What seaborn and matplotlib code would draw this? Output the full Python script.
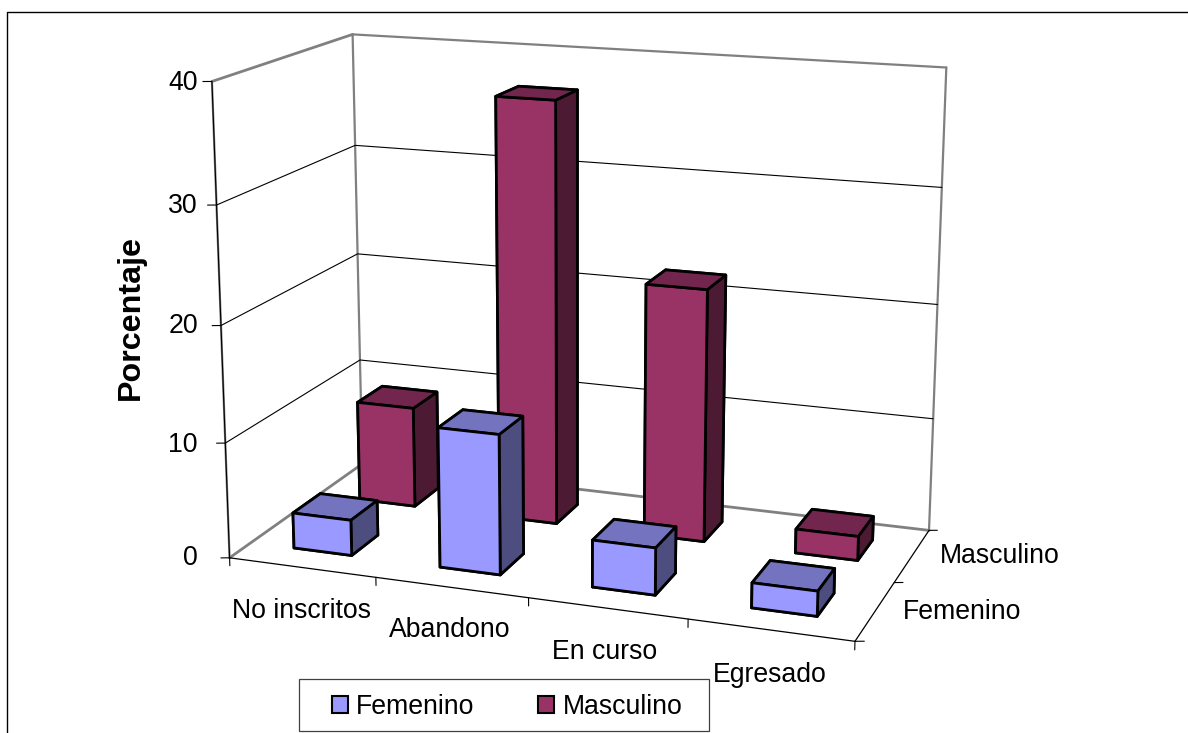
#!/usr/bin/env python3
# coding=utf-8
from matplotlib import pyplot as plt
from matplotlib.lines import Line2D
from matplotlib.patches import Patch, Rectangle
import numpy as np
import pandas as pd
import seaborn as sns

W, H = 1188, 733

categories = ["No inscritos", "Abandono", "En curso", "Egresado"]
series = ["Femenino", "Masculino"]
femenino = [3.1, 12.0, 4.0, 2.1]
masculino = [9.0, 37.0, 22.0, 2.1]
z_ticks = [0, 10, 20, 30, 40]

df = pd.DataFrame({
    "estado": categories * 2,
    "sexo": ["Femenino"] * 4 + ["Masculino"] * 4,
    "porcentaje": femenino + masculino,
})

# box corners (x, depth, z) and where they sit in the reference, in pixels
box_corners = [(0, 0, 0), (4, 0, 0), (4, 2, 0), (0, 2, 0),
               (0, 0, 40), (0, 2, 40), (4, 2, 40)]
box_pixels = [(230.7, 556.7), (855, 642.3), (929.3, 529.3), (361, 465),
              (210.7, 81.7), (354, 34), (946, 67.7)]


def fit_camera(world, pixels):
    rows = []
    for (x, y, z), (u, v) in zip(world, pixels):
        p = [x, y, z, 1]
        v = H - v
        rows.append(p + [0, 0, 0, 0] + [-u * c for c in p])
        rows.append([0, 0, 0, 0] + p + [-v * c for c in p])
    cam = np.linalg.svd(np.array(rows, float))[2][-1].reshape(3, 4)
    w_mid = cam[2] @ [2, 1, 20, 1]
    return cam / w_mid


sns.set_theme(style="white", font="Liberation Sans")
palette = sns.color_palette(["#9999FF", "#993366"])

fig = plt.figure(figsize=(W / 100, H / 100), dpi=100, facecolor="white")
# square axes bigger than the figure so nothing gets clipped
ax = fig.add_axes([0, (H - W) / 2 / H, 1, W / H], projection="3d")
ax.set_axis_off()
ax.patch.set_visible(False)
ax.computed_zorder = False
ax.set_proj_type("ortho")  # stops Line3D masking points, the matrix below does the perspective
ax.set_xlim(0, 4)
ax.set_ylim(0, 2)
ax.set_zlim(0, 40)

camera = fit_camera(box_corners, box_pixels)


def camera_proj():
    p = ax.transData.inverted().get_matrix() @ camera
    return np.vstack([p[0], p[1], p[2] - [0, 0, 0, 0.5], p[2]])


ax.get_proj = camera_proj

GRAY = "#808080"

# walls and floor edges
ax.plot([0, 0], [0, 2], [0, 0], color=GRAY, lw=2.0, zorder=1)
ax.plot([0, 4], [2, 2], [0, 0], color=GRAY, lw=2.0, zorder=1)
ax.plot([0, 0], [0, 2], [40, 40], color=GRAY, lw=2.0, zorder=1)
ax.plot([0, 4], [2, 2], [40, 40], color=GRAY, lw=1.6, zorder=1)
ax.plot([0, 0], [2, 2], [0, 40], color=GRAY, lw=1.6, zorder=1)
ax.plot([4, 4], [2, 2], [0, 40], color=GRAY, lw=1.6, zorder=1)
ax.plot([0, 0], [0, 0], [0, 40], color=GRAY, lw=1.6, zorder=1)

# grid
for z in z_ticks[1:-1]:
    ax.plot([0, 0, 4], [0, 2, 2], [z, z, z], color="black", lw=0.8, zorder=2)

# axis lines and ticks
ax.plot([0, 0], [0, 0], [0, 40], color="black", lw=0.8, zorder=2)
ax.plot([0, 4], [0, 0], [0, 0], color="black", lw=0.9, zorder=2)
ax.plot([4, 4], [0, 2], [0, 0], color="black", lw=0.9, zorder=2)
for z in z_ticks:
    ax.plot([0, -0.05], [0, -0.02], [z, z], color="black", lw=0.8, zorder=2)
for x in range(5):
    ax.plot([x, x], [0, 0], [0, -0.7], color="black", lw=0.8, zorder=2)
for y in range(3):
    ax.plot([4, 4.05], [y, y + 0.02], [0, 0], color="black", lw=0.8, zorder=2)


def shades(color):
    front = np.array(color)
    top = tuple(front * 0.75)
    side = tuple(front * 0.5)
    front = tuple(front)
    # bar3d face order: -z, +z, -y, +y, -x, +x
    return [front, top, front, front, side, side]


# bars, back row first
order = 10
for depth in [1, 0]:
    name = series[depth]
    rows = df[df["sexo"] == name]
    for i, val in enumerate(rows["porcentaje"]):
        ax.bar3d(i + 0.3, depth + 0.3, 0, 0.4, 0.4, val, shade=False,
                 color=shades(palette[depth]), edgecolor="black",
                 linewidth=2.0, zorder=order)
        order += 1

TXT = 19.2


def put(x, y, s, **kw):
    fig.text(x / W, 1 - y / H, s, fontsize=TXT, color="black", **kw)


for lab, (x, y) in zip(categories, [(301, 611), (450, 630), (605, 652), (770, 675)]):
    put(x, y, lab, ha="center", va="center")
for lab, (x, y) in zip(series, [(903, 612), (940, 556)]):
    put(x, y, lab, ha="left", va="center")
for lab, y in zip(z_ticks, [558, 445, 326, 206, 83]):
    put(198, y, str(lab), ha="right", va="center")
fig.text(131 / W, 1 - 318 / H, "Porcentaje", fontsize=23.2, fontweight="bold",
         rotation=90, ha="center", va="center", color="black")

# chart frame, cut off by the image at right and bottom
fig.add_artist(Line2D([6.5 / W, 6.5 / W, 1], [0, 1 - 11.5 / H, 1 - 11.5 / H],
                      color="black", lw=1.0, transform=fig.transFigure))

# legend box
fig.add_artist(Rectangle((298.5 / W, 1 - 731 / H), 410 / W, 52 / H, fill=False,
                         edgecolor="#404040", lw=0.9, transform=fig.transFigure))
handles = [Patch(facecolor=c, edgecolor="black", lw=1.5) for c in palette]
fig.legend(handles, series, loc="center", bbox_to_anchor=(507 / W, 1 - 707 / H),
           ncols=2, frameon=False, fontsize=TXT, handlelength=0.6,
           handleheight=0.6, handletextpad=0.31, columnspacing=2.4,
           labelcolor="black")

plt.savefig("out.png", dpi=100)
